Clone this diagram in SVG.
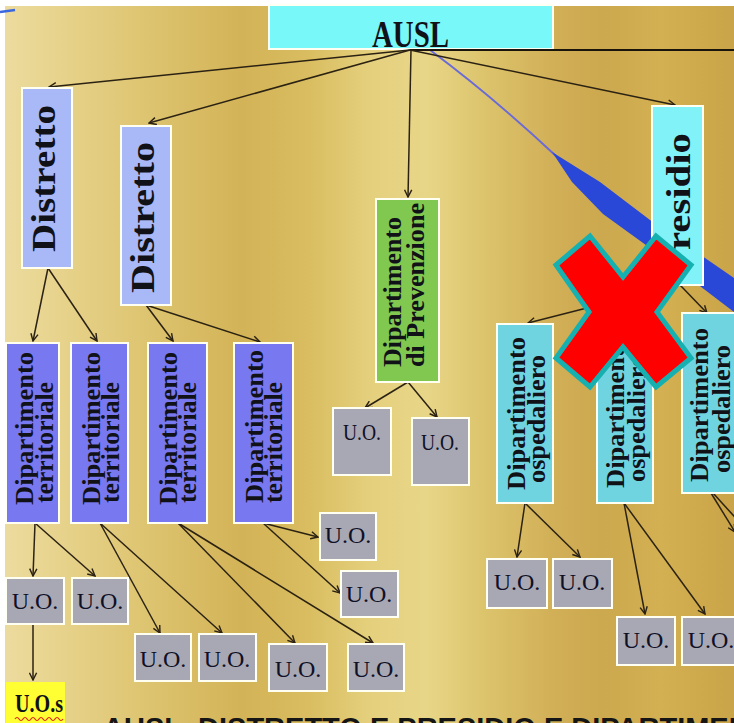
<svg xmlns="http://www.w3.org/2000/svg" width="734" height="723" viewBox="0 0 734 723">
  <defs>
    <linearGradient id="gold" x1="0" y1="0" x2="734" y2="0" gradientUnits="userSpaceOnUse">
      <stop offset="0" stop-color="#ecdca0"/>
      <stop offset="0.08" stop-color="#e7d38c"/>
      <stop offset="0.2" stop-color="#ddc470"/>
      <stop offset="0.33" stop-color="#d3b357"/>
      <stop offset="0.42" stop-color="#d9bd60"/>
      <stop offset="0.5" stop-color="#e4cf7c"/>
      <stop offset="0.58" stop-color="#e8d688"/>
      <stop offset="0.66" stop-color="#dcc46c"/>
      <stop offset="0.75" stop-color="#d2b058"/>
      <stop offset="0.82" stop-color="#cca84e"/>
      <stop offset="0.9" stop-color="#d3b052"/>
      <stop offset="1" stop-color="#c9a448"/>
    </linearGradient>
    <marker id="ah" viewBox="0 0 10 10" refX="9" refY="5" markerWidth="9" markerHeight="9" markerUnits="userSpaceOnUse" orient="auto">
      <path d="M1,1 L9,5 L1,9" fill="none" stroke="#2b2213" stroke-width="1.6"/>
    </marker>
    <style>
      .box { stroke: #fffff2; stroke-width: 2; }
      .distr { fill: #a9b9f8; }
      .terr { fill: #7878f0; }
      .prev { fill: #80c850; }
      .pres { fill: #80f2f8; }
      .osp { fill: #70d4e0; }
      .uo { fill: #a8a8b4; }
      .vt { font-family: "Liberation Serif", "Times New Roman", serif; font-weight: bold; fill: #111118; }
      .uot { font-family: "Liberation Serif", "Times New Roman", serif; font-size: 24px; fill: #101026; text-anchor: middle; }
      .conn { fill: none; stroke: #2b2213; stroke-width: 1.5; marker-end: url(#ah); }
    </style>
  </defs>

  <!-- background -->
  <rect x="0" y="0" width="734" height="723" fill="url(#gold)"/>
  <rect x="0" y="0" width="734" height="6" fill="#ffffff"/>
  <rect x="0" y="0" width="5" height="723" fill="#ffffff"/>
  <path d="M0,12 L15,10" stroke="#3a66e0" stroke-width="2.5" fill="none"/>

  <!-- blue streak -->
  <g id="streak">
    <path d="M430,50 Q492,96 556,156" fill="none" stroke="#6a6ad8" stroke-width="2"/>
    <polygon points="552,152 600,182 650,220 734,278 734,312 650,248 603,214 572,182" fill="#2a48d8"/>
  </g>

  <!-- top node -->
  <g id="ausl">
    <rect class="box" x="269" y="5" width="284" height="44" fill="#78f8f8"/>
    <text class="vt" x="372" y="47" font-size="38" textLength="77" lengthAdjust="spacingAndGlyphs">AUSL</text>
  </g>

  <!-- connectors -->
  <g id="connectors">
    <path d="M410,50 L734,50" fill="none" stroke="#1a150c" stroke-width="2"/>
    <path class="conn" d="M410,50 L49,87"/>
    <path class="conn" d="M410,50 L149,123"/>
    <path class="conn" d="M411,50 L408,197"/>
    <path class="conn" d="M410,50 L675,105"/>
    <path class="conn" d="M48,268 L33,341"/>
    <path class="conn" d="M48,268 L97,341"/>
    <path class="conn" d="M146,305 L173,341"/>
    <path class="conn" d="M146,305 L260,342"/>
    <path class="conn" d="M408,382 L365,408"/>
    <path class="conn" d="M408,382 L437,417"/>
    <path class="conn" d="M677,285 L528,323"/>
    <path class="conn" d="M677,285 L626,323"/>
    <path class="conn" d="M680,285 L707,313"/>
    <path class="conn" d="M35,523 L33,576"/>
    <path class="conn" d="M35,523 L95,576"/>
    <path class="conn" d="M33,624 L33,680"/>
    <path class="conn" d="M100,523 L160,633"/>
    <path class="conn" d="M100,523 L222,633"/>
    <path class="conn" d="M178,523 L295,643"/>
    <path class="conn" d="M178,523 L373,643"/>
    <path class="conn" d="M263,523 L318,537"/>
    <path class="conn" d="M263,523 L340,593"/>
    <path class="conn" d="M525,503 L517,557"/>
    <path class="conn" d="M525,503 L580,557"/>
    <path class="conn" d="M624,503 L645,614"/>
    <path class="conn" d="M624,503 L705,614"/>
    <path class="conn" d="M711,493 L735,532"/>
    <path class="conn" d="M713,493 L760,545"/>
  </g>

  <!-- districts -->
  <g id="distretto1">
    <rect class="box distr" x="22" y="88" width="50" height="180"/>
    <text class="vt" font-size="34" transform="translate(55,252) rotate(-90)" textLength="147" lengthAdjust="spacingAndGlyphs">Distretto</text>
  </g>
  <g id="distretto2">
    <rect class="box distr" x="121" y="126" width="50" height="179"/>
    <text class="vt" font-size="34" transform="translate(154,293) rotate(-90)" textLength="151" lengthAdjust="spacingAndGlyphs">Distretto</text>
  </g>

  <!-- prevention department -->
  <g id="prevenzione">
    <rect class="box prev" x="376" y="199" width="63" height="183"/>
    <text class="vt" font-size="26" transform="translate(401,367) rotate(-90)" textLength="150" lengthAdjust="spacingAndGlyphs">Dipartimento</text>
    <text class="vt" font-size="26" transform="translate(424,367) rotate(-90)" textLength="164" lengthAdjust="spacingAndGlyphs">di Prevenzione</text>
  </g>

  <!-- hospital -->
  <g id="presidio">
    <rect class="box pres" x="652" y="106" width="51" height="179"/>
    <text class="vt" font-size="34" transform="translate(690,250) rotate(-90)" textLength="117" lengthAdjust="spacingAndGlyphs">residio</text>
  </g>

  <!-- territorial departments -->
  <g id="territoriale1">
    <rect class="box terr" x="6" y="343" width="53" height="180"/>
    <text class="vt" font-size="26" transform="translate(33,505) rotate(-90)" textLength="153" lengthAdjust="spacingAndGlyphs">Dipartimento</text>
    <text class="vt" font-size="26" transform="translate(53,503) rotate(-90)" textLength="121" lengthAdjust="spacingAndGlyphs">territoriale</text>
  </g>
  <g id="territoriale2">
    <rect class="box terr" x="71" y="343" width="57" height="180"/>
    <text class="vt" font-size="26" transform="translate(100,505) rotate(-90)" textLength="153" lengthAdjust="spacingAndGlyphs">Dipartimento</text>
    <text class="vt" font-size="26" transform="translate(119,503) rotate(-90)" textLength="121" lengthAdjust="spacingAndGlyphs">territoriale</text>
  </g>
  <g id="territoriale3">
    <rect class="box terr" x="148" y="343" width="59" height="180"/>
    <text class="vt" font-size="26" transform="translate(177,505) rotate(-90)" textLength="153" lengthAdjust="spacingAndGlyphs">Dipartimento</text>
    <text class="vt" font-size="26" transform="translate(196,503) rotate(-90)" textLength="121" lengthAdjust="spacingAndGlyphs">territoriale</text>
  </g>
  <g id="territoriale4">
    <rect class="box terr" x="234" y="343" width="59" height="180"/>
    <text class="vt" font-size="26" transform="translate(263,503) rotate(-90)" textLength="153" lengthAdjust="spacingAndGlyphs">Dipartimento</text>
    <text class="vt" font-size="26" transform="translate(282,503) rotate(-90)" textLength="121" lengthAdjust="spacingAndGlyphs">territoriale</text>
  </g>

  <!-- hospital departments -->
  <g id="ospedaliero1">
    <rect class="box osp" x="497" y="324" width="56" height="179"/>
    <text class="vt" font-size="26" transform="translate(525,490) rotate(-90)" textLength="153" lengthAdjust="spacingAndGlyphs">Dipartimento</text>
    <text class="vt" font-size="26" transform="translate(545,483) rotate(-90)" textLength="128" lengthAdjust="spacingAndGlyphs">ospedaliero</text>
  </g>
  <g id="ospedaliero2">
    <rect class="box osp" x="597" y="324" width="56" height="179"/>
    <text class="vt" font-size="26" transform="translate(624,488) rotate(-90)" textLength="153" lengthAdjust="spacingAndGlyphs">Dipartimento</text>
    <text class="vt" font-size="26" transform="translate(645,482) rotate(-90)" textLength="128" lengthAdjust="spacingAndGlyphs">ospedaliero</text>
  </g>
  <g id="ospedaliero3">
    <rect class="box osp" x="682" y="313" width="60" height="180"/>
    <text class="vt" font-size="26" transform="translate(708,482) rotate(-90)" textLength="154" lengthAdjust="spacingAndGlyphs">Dipartimento</text>
    <text class="vt" font-size="26" transform="translate(730,473) rotate(-90)" textLength="128" lengthAdjust="spacingAndGlyphs">ospedaliero</text>
  </g>

  <!-- operating units -->
  <g id="uo-prev1">
    <rect class="box uo" x="333" y="408" width="58" height="67"/>
    <text class="uot" x="362" y="440" font-size="29" textLength="38" lengthAdjust="spacingAndGlyphs">U.O.</text>
  </g>
  <g id="uo-prev2">
    <rect class="box uo" x="412" y="418" width="57" height="67"/>
    <text class="uot" x="440" y="450" font-size="29" textLength="38" lengthAdjust="spacingAndGlyphs">U.O.</text>
  </g>
  <g id="uo-t1a">
    <rect class="box uo" x="6" y="578" width="58" height="46"/>
    <text class="uot" x="35" y="609">U.O.</text>
  </g>
  <g id="uo-t1b">
    <rect class="box uo" x="72" y="578" width="56" height="46"/>
    <text class="uot" x="100" y="609">U.O.</text>
  </g>
  <g id="uo-t2a">
    <rect class="box uo" x="135" y="634" width="56" height="47"/>
    <text class="uot" x="163" y="667">U.O.</text>
  </g>
  <g id="uo-t2b">
    <rect class="box uo" x="199" y="634" width="57" height="47"/>
    <text class="uot" x="227" y="667">U.O.</text>
  </g>
  <g id="uo-t3a">
    <rect class="box uo" x="269" y="644" width="58" height="47"/>
    <text class="uot" x="298" y="677">U.O.</text>
  </g>
  <g id="uo-t3b">
    <rect class="box uo" x="348" y="644" width="56" height="47"/>
    <text class="uot" x="376" y="677">U.O.</text>
  </g>
  <g id="uo-t4a">
    <rect class="box uo" x="320" y="513" width="56" height="47"/>
    <text class="uot" x="348" y="543">U.O.</text>
  </g>
  <g id="uo-t4b">
    <rect class="box uo" x="341" y="571" width="57" height="46"/>
    <text class="uot" x="369" y="602">U.O.</text>
  </g>
  <g id="uo-o1a">
    <rect class="box uo" x="487" y="559" width="60" height="49"/>
    <text class="uot" x="517" y="590">U.O.</text>
  </g>
  <g id="uo-o1b">
    <rect class="box uo" x="553" y="559" width="59" height="49"/>
    <text class="uot" x="582" y="590">U.O.</text>
  </g>
  <g id="uo-o2a">
    <rect class="box uo" x="617" y="617" width="58" height="48"/>
    <text class="uot" x="646" y="648">U.O.</text>
  </g>
  <g id="uo-o2b">
    <rect class="box uo" x="682" y="617" width="58" height="48"/>
    <text class="uot" x="711" y="648">U.O.</text>
  </g>
  <g id="uos">
    <rect x="6" y="682" width="59" height="45" fill="#ffff33"/>
    <text class="vt" x="15" y="712" font-size="26" textLength="48" lengthAdjust="spacingAndGlyphs">U.O.s</text>
    <path d="M15,719 q2,-3 4,0 t4,0 t4,0 t4,0 t4,0 t4,0 t4,0 t4,0 t4,0 t4,0 t4,0 t4,0" fill="none" stroke="#e02020" stroke-width="1.2"/>
  </g>

  <!-- caption, cut at the lower edge -->
  <text x="103" y="738" font-family="Liberation Sans, Arial, sans-serif" font-weight="bold" font-size="29" fill="#151515">AUSL, DISTRETTO E PRESIDIO E DIPARTIMENTI</text>

  <!-- red cross -->
  <g id="cross">
    <polygon points="590,236 623,277 656,236 691,265 657,312 691,358 656,387 623,347 590,387 556,358 589,312 556,265" fill="#ff0000" stroke="#17b0b0" stroke-width="5" stroke-linejoin="miter"/>
  </g>
</svg>
